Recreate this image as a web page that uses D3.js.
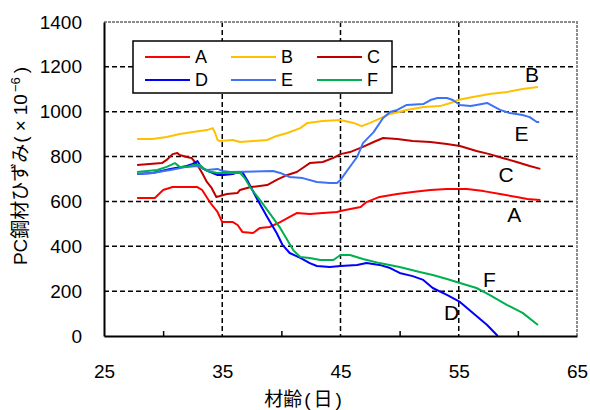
<!DOCTYPE html>
<html>
<head>
<meta charset="utf-8">
<script src="https://cdn.jsdelivr.net/npm/d3@7"></script>
<style>
  html, body { margin: 0; padding: 0; background: #fff; }
  svg text { font-family: "Liberation Sans", Arial, "Noto Sans CJK JP", sans-serif; fill: #000; }
</style>
</head>
<body>
<svg id="chart" width="590" height="410"></svg>
<script>
// Strain of PC steel versus concrete age, six gauges A–F
const seriesNames = ["A", "B", "C", "D", "E", "F"];
const seriesColors = ["#ff0000", "#ffc000", "#c00000", "#0000ff", "#3d72f5", "#00b050"];

const daysA = [27.8, 29.3, 30.0, 30.8, 32.3, 32.9, 33.3, 34.0, 34.6, 35.0, 35.9, 36.3, 36.7, 37.6, 38.2, 39.0, 39.9, 40.7, 41.3, 42.4, 43.5, 44.7, 45.0, 45.4, 46.7, 47.2, 48.3, 49.8, 51.1, 52.6, 54.0, 55.1, 55.7, 57.1, 58.5, 59.9, 60.8, 61.9];
const strainA = [615, 615, 651, 664, 664, 664, 651, 593, 553, 508, 508, 495, 464, 459, 482, 486, 508, 531, 548, 544, 548, 553, 557, 562, 575, 597, 620, 633, 642, 651, 655, 655, 655, 646, 633, 620, 611, 606];

const daysB = [27.8, 29.1, 30.3, 31.4, 32.5, 33.7, 34.2, 34.4, 34.6, 34.8, 35.9, 36.5, 37.6, 38.8, 39.6, 40.5, 41.6, 42.2, 43.5, 45.0, 46.1, 46.8, 47.5, 48.6, 49.2, 50.6, 52.0, 53.4, 54.3, 54.9, 56.2, 57.6, 59.1, 60.4, 61.7];
const strainB = [878, 878, 887, 901, 910, 918, 927, 905, 874, 869, 874, 865, 869, 874, 892, 905, 927, 950, 959, 963, 950, 936, 950, 976, 990, 1008, 1021, 1025, 1039, 1052, 1066, 1079, 1088, 1101, 1110];

const daysC = [27.8, 29.9, 30.3, 30.8, 31.2, 31.4, 32.0, 32.4, 32.9, 33.3, 33.7, 34.1, 34.5, 34.8, 35.4, 36.3, 36.5, 37.4, 38.8, 39.6, 40.5, 41.3, 41.8, 42.4, 43.5, 44.4, 45.0, 45.8, 46.9, 47.8, 48.6, 49.8, 51.1, 52.6, 54.0, 55.1, 56.5, 57.6, 58.7, 59.9, 61.0, 61.9];
const strainC = [762, 771, 785, 811, 816, 807, 798, 794, 762, 727, 687, 660, 620, 624, 633, 638, 651, 664, 673, 696, 718, 731, 749, 771, 776, 794, 811, 820, 843, 865, 883, 878, 869, 865, 856, 847, 825, 811, 794, 776, 758, 745];

const daysD = [27.8, 29.1, 30.6, 32.0, 32.5, 32.9, 33.1, 33.4, 34.0, 34.6, 35.1, 35.9, 36.3, 36.7, 37.1, 37.9, 38.8, 39.6, 40.1, 40.7, 41.6, 42.4, 43.0, 44.1, 45.0, 46.4, 47.2, 48.3, 49.2, 50.0, 51.1, 52.0, 52.8, 54.0, 55.1, 56.2, 57.4, 58.3];
const strainD = [722, 727, 745, 758, 767, 780, 762, 745, 731, 718, 718, 722, 731, 731, 696, 615, 531, 459, 406, 370, 348, 325, 312, 308, 312, 317, 325, 317, 303, 281, 267, 250, 214, 183, 152, 103, 49, 0];

const daysE = [27.8, 29.1, 30.6, 32.0, 32.9, 33.7, 34.6, 35.0, 35.7, 39.3, 39.9, 40.7, 41.8, 43.0, 44.1, 44.7, 45.0, 45.6, 46.4, 46.9, 47.8, 48.6, 49.2, 49.8, 50.6, 52.0, 52.6, 53.2, 54.0, 54.5, 55.1, 56.0, 56.5, 57.4, 57.9, 58.5, 59.3, 60.4, 61.0, 61.6, 61.8];
const strainE = [722, 727, 740, 754, 758, 740, 745, 736, 731, 736, 727, 709, 704, 687, 682, 682, 696, 740, 798, 860, 909, 972, 999, 1008, 1030, 1034, 1052, 1061, 1061, 1052, 1030, 1025, 1030, 1039, 1025, 1008, 994, 985, 976, 954, 954];

const daysF = [27.8, 29.5, 30.3, 31.0, 31.4, 32.0, 32.5, 33.1, 33.7, 34.6, 35.9, 36.5, 36.9, 37.4, 38.2, 39.0, 39.9, 40.5, 41.0, 41.6, 42.4, 43.3, 44.4, 45.0, 45.8, 46.9, 48.3, 50.0, 51.7, 52.8, 54.0, 55.1, 56.5, 57.6, 59.1, 60.4, 61.7];
const strainF = [731, 740, 754, 771, 754, 754, 762, 762, 736, 727, 727, 727, 704, 660, 606, 548, 482, 428, 383, 352, 348, 339, 339, 361, 361, 343, 325, 308, 285, 272, 254, 236, 214, 183, 138, 103, 49];

const xTicks = [25, 35, 45, 55, 65];
const xMinorTicks = [30, 40, 50, 60];
const yTicks = [0, 200, 400, 600, 800, 1000, 1200, 1400];

// End-of-line labels: [name, day, strain]
const endLabels = [
  ["B", 61.2, 1165],
  ["E", 60.3, 903],
  ["C", 59.0, 718],
  ["A", 59.7, 540],
  ["F", 57.6, 250],
  ["D", 54.4, 105]
];

const allSeries = [
  { name: "A", days: daysA, values: strainA },
  { name: "B", days: daysB, values: strainB },
  { name: "C", days: daysC, values: strainC },
  { name: "D", days: daysD, values: strainD },
  { name: "E", days: daysE, values: strainE },
  { name: "F", days: daysF, values: strainF }
];

const svg = d3.select("#chart");
const plot = { left: 104, right: 577, top: 22, bottom: 336 };

const x = d3.scaleLinear().domain([25, 65]).range([plot.left, plot.right]);
const y = d3.scaleLinear().domain([0, 1400]).range([plot.bottom, plot.top]);
const color = d3.scaleOrdinal().domain(seriesNames).range(seriesColors);

// Dashed grid
const grid = svg.append("g");
grid.selectAll("line.h")
  .data(yTicks.filter(v => v > 0 && v < 1400))
  .join("line")
  .attr("x1", plot.left).attr("x2", plot.right)
  .attr("y1", d => y(d)).attr("y2", d => y(d))
  .attr("stroke", "#000").attr("stroke-width", 1.5)
  .attr("stroke-dasharray", "5,3");
grid.selectAll("line.v")
  .data(xTicks.filter(v => v > 25 && v < 65))
  .join("line")
  .attr("x1", d => x(d)).attr("x2", d => x(d))
  .attr("y1", plot.top).attr("y2", plot.bottom)
  .attr("stroke", "#000").attr("stroke-width", 1.5)
  .attr("stroke-dasharray", "5,3");

// Grey frame on top and right
svg.append("path")
  .attr("d", `M${plot.left},${plot.top}H${plot.right}V${plot.bottom}`)
  .attr("fill", "none").attr("stroke", "#8c8c8c").attr("stroke-width", 2)
  .attr("stroke-dasharray", "3,1");

// Series lines
const line = d3.line().x(d => x(d[0])).y(d => y(d[1]));
svg.append("g").selectAll("path")
  .data(allSeries)
  .join("path")
  .attr("d", s => line(d3.zip(s.days, s.values)))
  .attr("fill", "none")
  .attr("stroke", s => color(s.name))
  .attr("stroke-width", 2)
  .attr("stroke-linejoin", "round");

// Axes
const xAxis = d3.axisBottom(x).tickValues(xTicks).tickSize(0).tickPadding(29).tickFormat(d3.format("d"));
const gx = svg.append("g").attr("transform", `translate(0,${plot.bottom})`).call(xAxis);
gx.select(".domain").attr("stroke", "#000").attr("stroke-width", 2);
gx.selectAll("text").attr("font-size", 19).attr("fill", "#000");

const xMinor = d3.axisBottom(x).tickValues(xMinorTicks).tickSize(-5).tickFormat("");
const gm = svg.append("g").attr("transform", `translate(0,${plot.bottom})`).call(xMinor);
gm.select(".domain").remove();
gm.selectAll("line").attr("stroke", "#000").attr("stroke-width", 1.5);

const yAxis = d3.axisLeft(y).tickValues(yTicks).tickSize(0).tickPadding(22).tickFormat(d3.format("d"));
const gy = svg.append("g").attr("transform", `translate(${plot.left},0)`).call(yAxis);
gy.select(".domain").attr("stroke", "#000").attr("stroke-width", 2);
gy.selectAll("text").attr("font-size", 19).attr("fill", "#000");

// Axis titles
const xTitle = svg.append("text")
  .attr("x", 303).attr("y", 406)
  .attr("text-anchor", "middle").attr("font-size", 19);
xTitle.append("tspan").text("材齢");
xTitle.append("tspan").attr("dx", 2).text("(");
xTitle.append("tspan").attr("dx", 3).text("日");
xTitle.append("tspan").attr("dx", 3).text(")");

const yTitle = svg.append("text")
  .attr("transform", "translate(27,166) rotate(-90)")
  .attr("text-anchor", "middle").attr("font-size", 19);
yTitle.append("tspan").text("PC鋼材ひずみ");
yTitle.append("tspan").attr("dx", 1).text("(");
yTitle.append("tspan").attr("dx", 5).text("×");
yTitle.append("tspan").attr("dx", 5).text("10");
yTitle.append("tspan").attr("dx", 2).attr("dy", -7).attr("font-size", 13).text("−6");
yTitle.append("tspan").attr("dx", 4).attr("dy", 7).text(")");

// Labels at the line ends
svg.append("g").selectAll("text")
  .data(endLabels)
  .join("text")
  .attr("x", d => x(d[1])).attr("y", d => y(d[2]))
  .attr("text-anchor", "middle").attr("dominant-baseline", "central")
  .attr("font-size", 21)
  .text(d => d[0]);

// Legend
const legend = svg.append("g");
legend.append("rect")
  .attr("x", 133).attr("y", 41).attr("width", 259).attr("height", 52)
  .attr("fill", "#fff").attr("stroke", "#000").attr("stroke-width", 1.5);
const legendCols = [145, 231, 317];
const legendRows = [57, 80];
const items = legend.selectAll("g.item")
  .data(seriesNames)
  .join("g")
  .attr("transform", (d, i) => `translate(${legendCols[i % 3]},${legendRows[Math.floor(i / 3)]})`);
items.append("line")
  .attr("x1", 0).attr("x2", 45).attr("y1", 0).attr("y2", 0)
  .attr("stroke", d => color(d)).attr("stroke-width", 2);
items.append("text")
  .attr("x", 50).attr("y", 0)
  .attr("dominant-baseline", "central").attr("font-size", 18)
  .text(d => d);
</script>
</body>
</html>
